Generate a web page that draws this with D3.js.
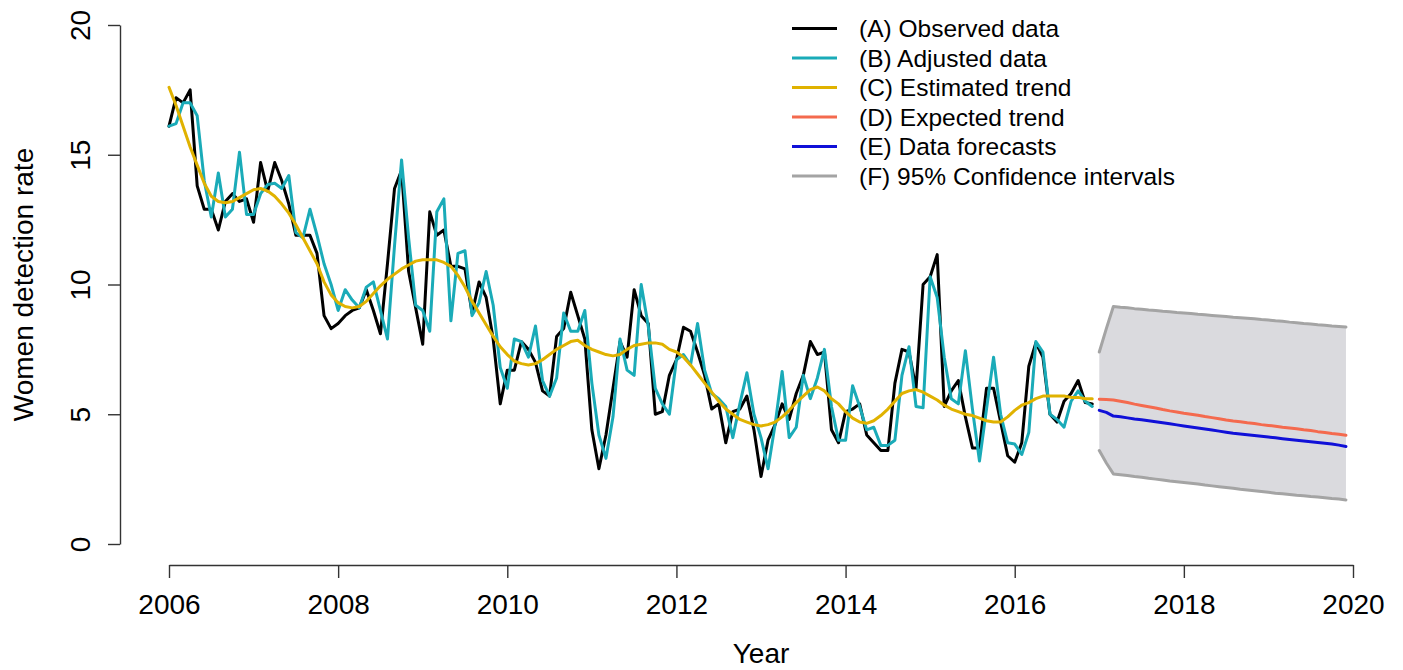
<!DOCTYPE html>
<html>
<head>
<meta charset="utf-8">
<script src="https://cdn.jsdelivr.net/npm/d3@7"></script>
<style>
  html, body { margin: 0; padding: 0; background: #fff; }
  svg { display: block; font-family: "Liberation Sans", Arial, sans-serif; }
</style>
</head>
<body>
<svg id="chart" width="1403" height="670"></svg>
<script>
// ---------- DATA ----------
const startYear = 2006;          // first month: Jan 2006
const forecastStart = 2017;      // first forecast month: Jan 2017

const observed = [
  16.1, 17.2, 17.0, 17.5, 13.8, 12.9, 12.9, 12.1, 13.2, 13.5, 13.2, 13.3,
  12.4, 14.7, 13.6, 14.7, 14.0, 13.1, 11.9, 11.9, 11.9, 11.2, 8.8, 8.3,
  8.5, 8.8, 9.0, 9.1, 9.8, 9.0, 8.1, 10.8, 13.7, 14.4, 10.5, 9.1,
  7.7, 12.8, 11.9, 12.1, 10.7, 10.7, 10.6, 8.9, 10.1, 9.5, 7.9, 5.4,
  6.7, 6.7, 7.8, 7.5, 7.0, 5.9, 5.7, 8.0, 8.3, 9.7, 8.8, 7.9,
  4.4, 2.9, 4.2, 6.0, 7.8, 7.2, 9.8, 8.8, 8.5, 5.0, 5.1, 6.5,
  7.1, 8.35, 8.2, 7.4, 6.5, 5.2, 5.4, 3.9, 5.1, 5.2, 5.7, 4.4,
  2.6, 4.0, 4.6, 5.4, 4.8, 5.8, 6.5, 7.8, 7.3, 7.4, 4.4, 3.9,
  5.1, 5.2, 5.4, 4.2, 3.9, 3.6, 3.6, 6.2, 7.5, 7.4, 6.0, 10.0,
  10.3, 11.15, 5.3, 5.9, 6.3, 4.9, 3.7, 3.7, 6.0, 6.0, 4.7, 3.4,
  3.15, 3.9, 6.85, 7.75, 7.2, 5.0, 4.7, 5.5, 5.8, 6.3, 5.45, 5.4
];

const adjusted = [
  16.1, 16.2, 17.0, 17.0, 16.5, 14.0, 12.6, 14.3, 12.6, 12.9, 15.1, 12.7,
  12.7, 13.5, 13.85, 13.9, 13.7, 14.2, 12.0, 11.8, 12.9, 11.9, 10.8, 10.0,
  9.0, 9.8, 9.4, 9.1, 9.9, 10.1, 9.0, 7.9, 11.5, 14.8, 11.8, 9.2,
  9.0, 8.2, 12.8, 13.3, 8.6, 11.2, 11.3, 8.8, 9.3, 10.5, 9.2, 6.8,
  6.0, 7.9, 7.8, 7.2, 8.4, 6.3, 5.7, 6.4, 8.9, 8.2, 8.2, 9.0,
  6.2, 4.2, 3.3, 4.9, 7.9, 6.7, 6.5, 10.0, 8.4, 6.0, 5.4, 5.0,
  7.1, 7.3, 6.9, 8.5, 6.7, 5.8, 5.6, 5.3, 4.1, 5.4, 6.6, 5.0,
  4.1, 2.9, 4.6, 6.65, 4.1, 4.5, 6.5, 5.6, 6.4, 7.5, 5.3, 4.0,
  4.0, 6.1, 5.3, 4.4, 4.5, 3.8, 3.8, 4.0, 6.5, 7.6, 5.3, 5.25,
  10.3, 9.5, 7.2, 5.6, 5.4, 7.45, 5.2, 3.2, 5.2, 7.2, 5.0, 3.9,
  3.85, 3.45, 4.3, 7.8, 7.4, 5.0, 4.8, 4.5, 5.5, 5.9, 5.5, 5.3
];

const estimatedTrend = [
  17.6, 16.9, 16.1, 15.3, 14.6, 13.9, 13.4, 13.2, 13.15, 13.2, 13.35, 13.5,
  13.65, 13.7, 13.6, 13.4, 13.1, 12.75, 12.3, 11.8, 11.3, 10.8, 10.1, 9.6,
  9.3, 9.15, 9.1, 9.15, 9.35, 9.65, 9.95, 10.2, 10.4, 10.6, 10.75, 10.9,
  10.95, 10.95, 10.95, 10.85, 10.7, 10.35, 9.9, 9.35, 8.9, 8.45, 8.0, 7.6,
  7.3, 7.05, 6.95, 6.9, 6.95, 7.1, 7.3, 7.5, 7.65, 7.8, 7.85, 7.65,
  7.5, 7.4, 7.3, 7.25, 7.3, 7.5, 7.65, 7.7, 7.75, 7.75, 7.7, 7.5,
  7.4, 7.2, 6.9, 6.55, 6.2, 5.85, 5.5, 5.2, 5.0, 4.8, 4.7, 4.6,
  4.55, 4.6, 4.7, 4.9, 5.15, 5.45, 5.7, 5.95, 6.05, 5.9, 5.6, 5.4,
  5.1, 4.85, 4.7, 4.65, 4.75, 4.95, 5.2, 5.5, 5.8, 5.9, 5.95, 5.85,
  5.7, 5.55, 5.35, 5.2, 5.1, 5.0, 4.95, 4.85, 4.75, 4.7, 4.7, 4.9,
  5.15, 5.35, 5.45, 5.6, 5.7, 5.7, 5.7, 5.7, 5.65, 5.65, 5.6, 5.6
];

const expectedTrend = [
  5.58, 5.57, 5.55, 5.50, 5.45, 5.39, 5.34, 5.29, 5.24, 5.18, 5.13, 5.09,
  5.04, 5.00, 4.96, 4.91, 4.87, 4.83, 4.78, 4.74, 4.71, 4.67, 4.64, 4.60,
  4.57, 4.54, 4.50, 4.47, 4.44, 4.40, 4.37, 4.33, 4.30, 4.26, 4.23, 4.19
];

const dataForecasts = [
  5.15, 5.07, 4.93, 4.90, 4.86, 4.82, 4.79, 4.75, 4.71, 4.67, 4.63, 4.59,
  4.55, 4.51, 4.47, 4.43, 4.39, 4.35, 4.31, 4.27, 4.24, 4.21, 4.18, 4.15,
  4.12, 4.09, 4.06, 4.03, 4.00, 3.97, 3.94, 3.91, 3.88, 3.85, 3.81, 3.76
];

const ciUpper = [
  7.40, 8.30, 9.15, 9.12, 9.10, 9.07, 9.05, 9.02, 9.00, 8.97, 8.95, 8.92,
  8.90, 8.88, 8.85, 8.83, 8.81, 8.79, 8.77, 8.74, 8.72, 8.70, 8.68, 8.65,
  8.63, 8.60, 8.58, 8.55, 8.53, 8.50, 8.48, 8.45, 8.43, 8.40, 8.38, 8.36
];

const ciLower = [
  3.60, 3.12, 2.70, 2.67, 2.64, 2.60, 2.57, 2.53, 2.50, 2.47, 2.43, 2.40,
  2.37, 2.34, 2.31, 2.27, 2.24, 2.21, 2.18, 2.15, 2.11, 2.08, 2.05, 2.02,
  1.99, 1.96, 1.94, 1.91, 1.88, 1.86, 1.83, 1.81, 1.78, 1.75, 1.73, 1.70
];

const xTicks = [2006, 2008, 2010, 2012, 2014, 2016, 2018, 2020];
const yTicks = [0, 5, 10, 15, 20];

const legendLabels = [
  "(A) Observed data",
  "(B) Adjusted data",
  "(C) Estimated trend",
  "(D) Expected trend",
  "(E) Data forecasts",
  "(F) 95% Confidence intervals"
];

// ---------- STYLES ----------
const colors = {
  observed: "#000000",
  adjusted: "#1AABB8",
  trend: "#E0B200",
  expected: "#F46A4E",
  forecast: "#1010D8",
  ci: "#A4A4A4",
  ciFill: "#DADADE"
};
const legendColors = [colors.observed, colors.adjusted, colors.trend, colors.expected, colors.forecast, colors.ci];

// ---------- SCALES ----------
const svg = d3.select("#chart");
const x = d3.scaleLinear().domain([2006, 2020]).range([169, 1353]);
const y = d3.scaleLinear().domain([0, 20]).range([544, 25]);

const monthT = (start, i) => start + i / 12;
const toPts = (arr, start) => arr.map((v, i) => [monthT(start, i), v]);

const line = d3.line().x(d => x(d[0])).y(d => y(d[1]));

// ---------- CONFIDENCE BAND ----------
const band = d3.area()
  .x((d, i) => x(monthT(forecastStart, i)))
  .y0((d, i) => y(ciLower[i]))
  .y1((d, i) => y(ciUpper[i]));
svg.append("path").datum(ciUpper).attr("d", band).attr("fill", colors.ciFill).attr("stroke", "none");

// ---------- SERIES ----------
function drawLine(arr, start, color) {
  svg.append("path").datum(toPts(arr, start))
    .attr("d", line)
    .attr("fill", "none")
    .attr("stroke", color)
    .attr("stroke-width", 3)
    .attr("stroke-linejoin", "round")
    .attr("stroke-linecap", "round");
}
drawLine(observed, startYear, colors.observed);
drawLine(adjusted, startYear, colors.adjusted);
drawLine(estimatedTrend, startYear, colors.trend);
drawLine(ciUpper, forecastStart, colors.ci);
drawLine(ciLower, forecastStart, colors.ci);
drawLine(expectedTrend, forecastStart, colors.expected);
drawLine(dataForecasts, forecastStart, colors.forecast);

// ---------- AXES ----------
const axisColor = "#333";
const xAxis = svg.append("g").attr("transform", "translate(0,565)")
  .call(d3.axisBottom(x).tickValues(xTicks).tickFormat(d3.format("d")).tickSizeOuter(0).tickSizeInner(13).tickPadding(16));
const yAxis = svg.append("g").attr("transform", "translate(120,0)")
  .call(d3.axisLeft(y).tickValues(yTicks).tickFormat(d3.format("d")).tickSizeOuter(0).tickSizeInner(12));

[xAxis, yAxis].forEach(g => {
  g.select(".domain").attr("stroke", axisColor).attr("stroke-width", 1.4);
  g.selectAll(".tick line").attr("stroke", axisColor).attr("stroke-width", 1.4);
  g.selectAll("text").attr("fill", "#000").attr("font-size", 28)
    .attr("font-family", '"Liberation Sans", Arial, sans-serif');
});
// R-style: y tick labels parallel to the axis
yAxis.selectAll(".tick text")
  .attr("x", 0).attr("dy", null).attr("text-anchor", "middle")
  .attr("transform", "translate(-30,0) rotate(-90)");

// axis titles
svg.append("text")
  .attr("x", (x(2006) + x(2020)) / 2).attr("y", 663)
  .attr("text-anchor", "middle").attr("font-size", 28).text("Year");
svg.append("text")
  .attr("transform", `translate(33,${(y(0) + y(20)) / 2}) rotate(-90)`)
  .attr("text-anchor", "middle").attr("font-size", 28).text("Women detection rate");

// ---------- LEGEND ----------
const lg = svg.append("g");
legendLabels.forEach((lab, i) => {
  const yy = 28.5 + i * 29.5;
  lg.append("line").attr("x1", 792).attr("x2", 837).attr("y1", yy).attr("y2", yy)
    .attr("stroke", legendColors[i]).attr("stroke-width", 3);
  lg.append("text").attr("x", 859).attr("y", yy + 8.7)
    .attr("font-size", 24.5).attr("fill", "#000").text(lab);
});
</script>
</body>
</html>
